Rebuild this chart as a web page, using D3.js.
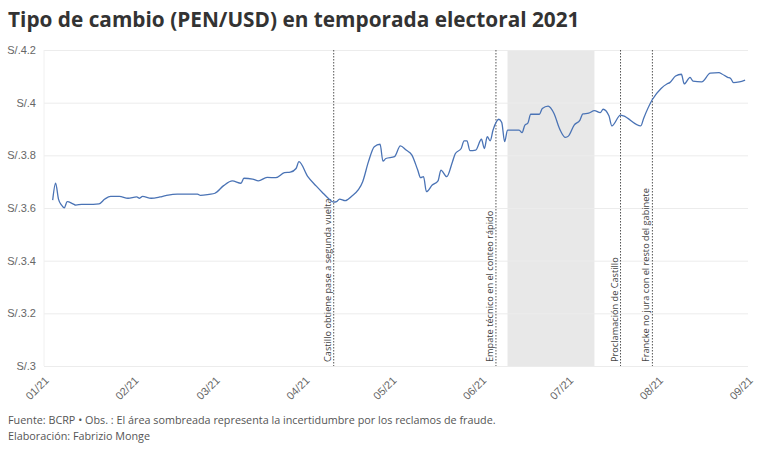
<!DOCTYPE html>
<html>
<head>
<meta charset="utf-8">
<script src="https://cdn.jsdelivr.net/npm/d3@7"></script>
<style>
  body { margin: 0; background: #fff; }
  svg { font-family: "Open Sans", "Noto Sans", sans-serif; }
</style>
</head>
<body>
<svg id="chart" width="768" height="450"></svg>
<script>
// tipo de cambio PEN/USD, lectura aproximada del grafico
var dates = ["2021-01-04","2021-01-05","2021-01-06","2021-01-07","2021-01-08","2021-01-09","2021-01-11","2021-01-12",
  "2021-01-14","2021-01-16","2021-01-20","2021-01-22","2021-01-24","2021-01-27","2021-01-30","2021-02-02","2021-02-03",
  "2021-02-04","2021-02-07","2021-02-10","2021-02-12","2021-02-16","2021-02-23","2021-02-24","2021-02-27","2021-03-01",
  "2021-03-04","2021-03-07","2021-03-10","2021-03-11","2021-03-14","2021-03-16","2021-03-19","2021-03-22","2021-03-25",
  "2021-03-27","2021-03-29","2021-03-30","2021-04-02","2021-04-05","2021-04-07","2021-04-09","2021-04-11","2021-04-12",
  "2021-04-13","2021-04-15","2021-04-17","2021-04-21","2021-04-23","2021-04-25","2021-04-27","2021-04-28","2021-04-29",
  "2021-05-02","2021-05-04","2021-05-06","2021-05-08","2021-05-10","2021-05-11","2021-05-12","2021-05-13","2021-05-15",
  "2021-05-17","2021-05-18","2021-05-20","2021-05-22","2021-05-23","2021-05-25","2021-05-26","2021-05-27","2021-05-28",
  "2021-05-30","2021-06-01","2021-06-02","2021-06-03","2021-06-04","2021-06-05","2021-06-07","2021-06-08","2021-06-09",
  "2021-06-10","2021-06-14","2021-06-15","2021-06-16","2021-06-17","2021-06-18","2021-06-21","2021-06-22","2021-06-24",
  "2021-06-26","2021-06-28","2021-06-30","2021-07-01","2021-07-03","2021-07-05","2021-07-06","2021-07-08","2021-07-10",
  "2021-07-12","2021-07-13","2021-07-15","2021-07-16","2021-07-19","2021-07-20","2021-07-26","2021-07-27","2021-07-30",
  "2021-08-02","2021-08-04","2021-08-05","2021-08-07","2021-08-09","2021-08-10","2021-08-12","2021-08-13","2021-08-16",
  "2021-08-19","2021-08-22","2021-08-23","2021-08-25","2021-08-26","2021-08-27","2021-08-29","2021-08-31"];
var rates = [3.630,3.694,3.634,3.612,3.601,3.624,3.616,3.611,
  3.614,3.614,3.616,3.634,3.644,3.644,3.637,3.642,3.637,
  3.644,3.637,3.642,3.647,3.653,3.653,3.648,3.652,3.656,
  3.685,3.703,3.694,3.713,3.710,3.703,3.716,3.715,3.734,
  3.736,3.750,3.776,3.720,3.683,3.660,3.638,3.622,3.624,
  3.634,3.628,3.643,3.700,3.776,3.833,3.842,3.778,3.788,
  3.795,3.836,3.820,3.801,3.744,3.715,3.719,3.662,3.687,
  3.703,3.744,3.719,3.776,3.807,3.826,3.855,3.855,3.818,
  3.820,3.861,3.826,3.871,3.855,3.896,3.937,3.925,3.852,
  3.896,3.896,3.886,3.915,3.922,3.956,3.956,3.978,3.987,
  3.960,3.900,3.868,3.873,3.915,3.934,3.957,3.960,3.970,
  3.962,3.975,3.950,3.912,3.953,3.950,3.912,3.941,4.012,
  4.054,4.071,4.076,4.101,4.108,4.071,4.096,4.082,4.079,
  4.112,4.114,4.109,4.096,4.092,4.076,4.079,4.086];

var yTicks = [3, 3.2, 3.4, 3.6, 3.8, 4, 4.2];

var eventDates = ["2021-04-11","2021-06-06","2021-07-19","2021-07-30"];
var eventLabels = ["Castillo obtiene pase a segunda vuelta","Empate técnico en el conteo rápido",
  "Proclamación de Castillo","Francke no jura con el resto del gabinete"];

var shadeStart = "2021-06-10", shadeEnd = "2021-07-10";

var parse = d3.timeParse("%Y-%m-%d");
var data = dates.map(function (d, i) { return { date: parse(d), value: rates[i] }; });

var svg = d3.select("#chart");
var mLeft = 44, mRight = 748, mTop = 50, mBottom = 366;

var x = d3.scaleTime().domain([parse("2021-01-01"), parse("2021-09-01")]).range([mLeft, mRight]);
var y = d3.scaleLinear().domain([3, 4.2]).range([mBottom, mTop]);

// titulo
svg.append("text").attr("x", 8).attr("y", 27)
  .style("font-size", "20.8px").style("font-weight", "700").style("fill", "#333")
  .text("Tipo de cambio (PEN/USD) en temporada electoral 2021");

// area sombreada
svg.append("rect")
  .attr("x", x(parse(shadeStart))).attr("y", mTop)
  .attr("width", x(parse(shadeEnd)) - x(parse(shadeStart))).attr("height", mBottom - mTop)
  .style("fill", "#e8e8e8");

// grilla
var yAxis = svg.append("g").attr("transform", "translate(" + mLeft + ",0)")
  .call(d3.axisLeft(y).tickValues(yTicks).tickSize(-(mRight - mLeft)).tickPadding(8)
    .tickFormat(function (d) { return "S/." + d; }));
yAxis.select(".domain").remove();
yAxis.selectAll(".tick line").style("stroke", "#ececec");
yAxis.selectAll(".tick text").style("fill", "#666").style("font-size", "11px");

svg.append("line").attr("x1", mLeft).attr("x2", mLeft).attr("y1", mTop).attr("y2", mBottom)
  .style("stroke", "#f0f0f0");

var xAxis = svg.append("g").attr("transform", "translate(0," + mBottom + ")")
  .call(d3.axisBottom(x).ticks(d3.timeMonth.every(1)).tickSize(0).tickFormat(d3.timeFormat("%m/%y")));
xAxis.select(".domain").remove();
xAxis.selectAll(".tick text")
  .style("fill", "#666").style("font-size", "11px")
  .attr("text-anchor", "end")
  .attr("dx", 0).attr("dy", 0)
  .attr("transform", "translate(3,13) rotate(-45)");

// lineas de eventos
var ev = svg.append("g").selectAll("g").data(eventDates).enter().append("g");
ev.append("line")
  .attr("x1", function (d) { return x(parse(d)); })
  .attr("x2", function (d) { return x(parse(d)); })
  .attr("y1", mTop).attr("y2", mBottom)
  .style("stroke", "#555").style("stroke-width", 1).style("stroke-dasharray", "1.5,1.5");
ev.append("text")
  .attr("transform", function (d) { return "translate(" + (x(parse(d)) - 3) + "," + (mBottom - 4) + ") rotate(-90)"; })
  .style("font-size", "9.2px").style("fill", "#444")
  .text(function (d, i) { return eventLabels[i]; });

// serie
var line = d3.line()
  .x(function (d) { return x(d.date); })
  .y(function (d) { return y(d.value); })
  .curve(d3.curveMonotoneX);
svg.append("path").datum(data)
  .attr("d", line)
  .style("fill", "none").style("stroke", "#4a73b5").style("stroke-width", 1.3);

// pie
svg.append("text").attr("x", 8).attr("y", 424)
  .style("font-size", "10.8px").style("fill", "#555")
  .text("Fuente: BCRP • Obs. : El área sombreada representa la incertidumbre por los reclamos de fraude.");
svg.append("text").attr("x", 8).attr("y", 440)
  .style("font-size", "10.8px").style("fill", "#555")
  .text("Elaboración: Fabrizio Monge");
</script>
</body>
</html>
